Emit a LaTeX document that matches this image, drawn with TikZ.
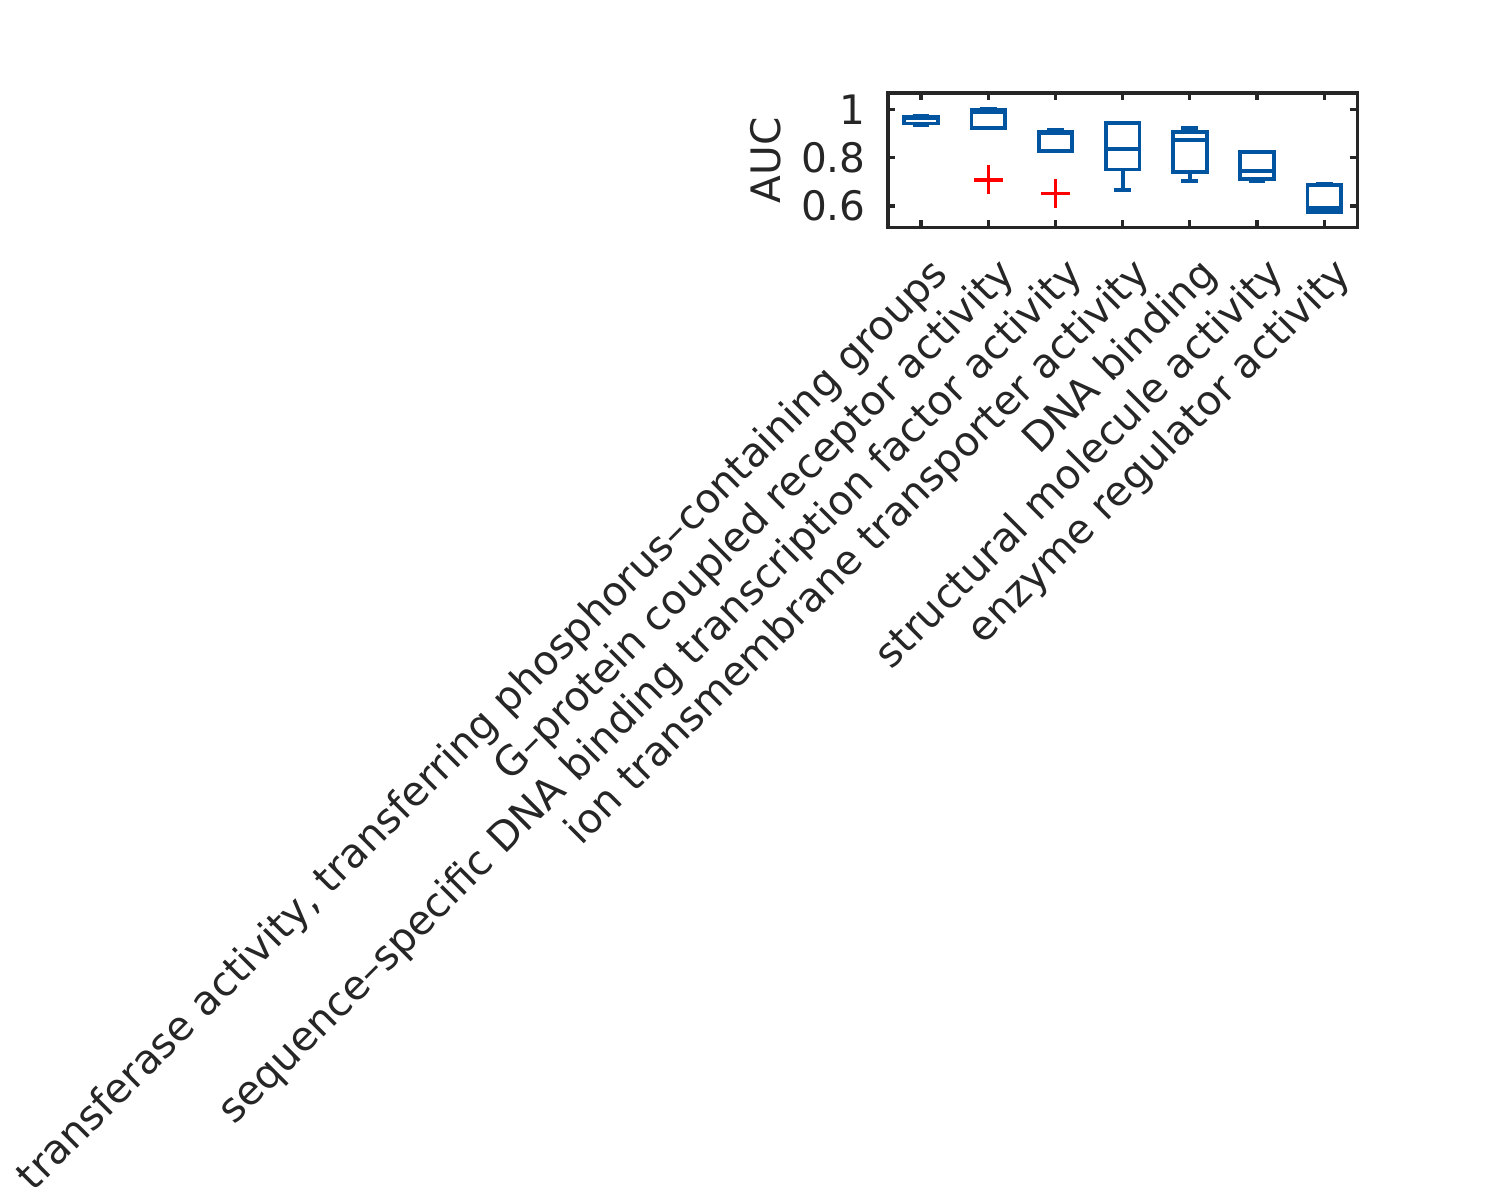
\documentclass[tikz,border=0pt]{standalone}
\usepackage{fontspec}
\setmainfont{DejaVu Sans}
\usepackage{tikz}
\usetikzlibrary{calc, positioning}
\definecolor{bxblue}{RGB}{0,84,160}
\definecolor{axgray}{RGB}{38,38,38}
\newcommand*{\bxp}[6]{%
 \draw[bx] (#1-0.25,#3) rectangle (#1+0.25,#5);
 \draw[bx] (#1-0.25,#4) -- (#1+0.25,#4);
 \draw[bx] (#1,#5) -- (#1,#6) (#1-0.125,#6) -- (#1+0.125,#6);
 \draw[bx] (#1,#3) -- (#1,#2) (#1-0.125,#2) -- (#1+0.125,#2);
}
\newcommand*{\otl}[2]{\draw[otl] (#1,#2) +(-0.216,0) -- +(0.216,0) +(0,-0.06) -- +(0,0.06);}

\begin{document}
\begin{tikzpicture}[x=33.6pt, y=120.85pt,
 bx/.style={draw=bxblue, line width=1.9pt},
 otl/.style={draw=red, line width=1.7pt},
 ax/.style={draw=axgray, line width=1.6pt},
 lbl/.style={font=\fontsize{20.3}{24}\selectfont, text=axgray, inner sep=0pt},
 xlbl/.style={lbl, rotate=45, anchor=base east}]
 \useasboundingbox (-12.705,-3.5126) rectangle (9.616,1.4522);

 \bxp{1}{0.934}{0.941}{0.962}{0.968}{0.974}
 \bxp{2}{0.923}{0.923}{0.989}{0.998}{1.0}
 \bxp{3}{0.827}{0.827}{0.900}{0.905}{0.915}
 \bxp{4}{0.666}{0.751}{0.835}{0.943}{0.943}
 \bxp{5}{0.703}{0.741}{0.873}{0.905}{0.922}
 \bxp{6}{0.703}{0.712}{0.746}{0.823}{0.823}
 \bxp{7}{0.574}{0.576}{0.593}{0.688}{0.690}
 \otl{2}{0.7075}
 \otl{3}{0.652}

 \draw[ax] (0.51,0.511) coordinate (SW) rectangle (7.49,1.067) coordinate (NE);
 \draw[ax] (1,0.511) --++ (0,0.029) (2,0.511) --++ (0,0.029) (3,0.511) --++ (0,0.029) (4,0.511) --++ (0,0.029)
  (5,0.511) --++ (0,0.029) (6,0.511) --++ (0,0.029) (7,0.511) --++ (0,0.029);
 \draw[ax] (1,1.067) --++ (0,-0.029) (2,1.067) --++ (0,-0.029) (3,1.067) --++ (0,-0.029) (4,1.067) --++ (0,-0.029)
  (5,1.067) --++ (0,-0.029) (6,1.067) --++ (0,-0.029) (7,1.067) --++ (0,-0.029);
 \draw[ax] (0.51,0.6) --++ (0.104,0) (0.51,0.8) --++ (0.104,0) (0.51,1) --++ (0.104,0);
 \draw[ax] (7.49,0.6) --++ (-0.104,0) (7.49,0.8) --++ (-0.104,0) (7.49,1) --++ (-0.104,0);

 \node[lbl, anchor=east] (Y06) at (0.1815,0.6) {0.6};
 \node[lbl, anchor=east] (Y08) at (0.1815,0.8) {0.8};
 \node[lbl, anchor=east] (Y10) at (0.1815,1) {1};
 \node[lbl, rotate=90, anchor=base] (AUC) at (-1.098,0.788) {AUC};

 \node[xlbl] (L1) at (1.43,0.31) {transferase activity, transferring phosphorus–containing groups};
 \node[xlbl] (L2) at (2.43,0.31) {G–protein coupled receptor activity};
 \node[xlbl] (L3) at (3.43,0.31) {sequence–specific DNA binding transcription factor activity};
 \node[xlbl] (L4) at (4.43,0.31) {ion transmembrane transporter activity};
 \node[xlbl] (L5) at (5.43,0.31) {DNA binding};
 \node[xlbl] (L6) at (6.43,0.31) {structural molecule activity};
 \node[xlbl] (L7) at (7.43,0.31) {enzyme regulator activity};
\end{tikzpicture}
\end{document}
